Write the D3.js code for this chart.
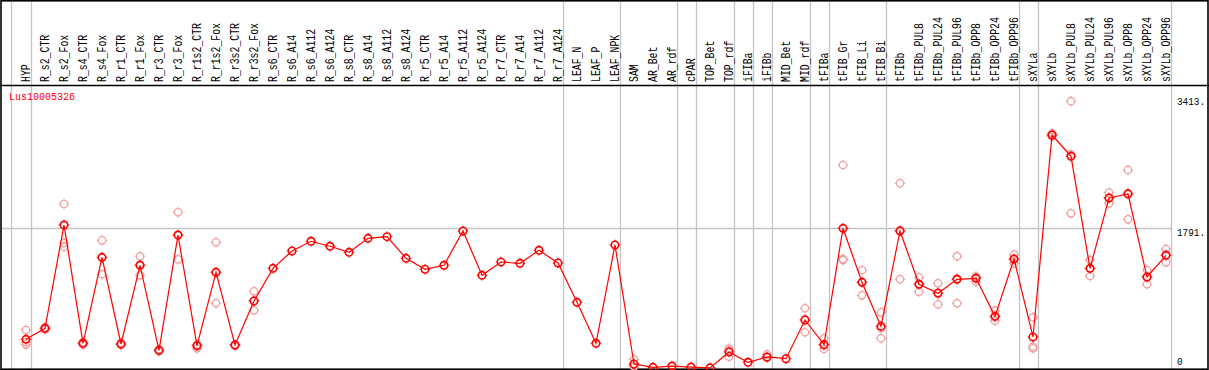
<!DOCTYPE html>
<html><head><meta charset="utf-8">
<script src="https://cdn.jsdelivr.net/npm/d3@7"></script>
<style>html,body{margin:0;padding:0;background:#fff;overflow:hidden}</style>
</head><body>
<svg id="c" width="1209" height="370"></svg>
<script>
const categories = ["HYP","R_s2_CTR","R_s2_Fox","R_s4_CTR","R_s4_Fox","R_r1_CTR","R_r1_Fox","R_r3_CTR","R_r3_Fox","R_r1s2_CTR","R_r1s2_Fox","R_r3s2_CTR","R_r3s2_Fox","R_s6_CTR","R_s6_A14","R_s6_A112","R_s6_A124","R_s8_CTR","R_s8_A14","R_s8_A112","R_s8_A124","R_r5_CTR","R_r5_A14","R_r5_A112","R_r5_A124","R_r7_CTR","R_r7_A14","R_r7_A112","R_r7_A124","LEAF_N","LEAF_P","LEAF_NPK","SAM","AR_Bet","AR_rdf","cPAR","TOP_Bet","TOP_rdf","iFIBa","iFIBb","MID_Bet","MID_rdf","tFIBa","tFIB_Gr","tFIB_Li","tFIB_Bi","tFIBb","tFIBb_PUL8","tFIBb_PUL24","tFIBb_PUL96","tFIBb_OPP8","tFIBb_OPP24","tFIBb_OPP96","sXYLa","sXYLb","sXYLb_PUL8","sXYLb_PUL24","sXYLb_PUL96","sXYLb_OPP8","sXYLb_OPP24","sXYLb_OPP96"];
const meanValues = [367,508,1829,316,1416,307,1314,226,1701,285,1224,294,857,1275,1497,1621,1557,1480,1659,1680,1403,1263,1314,1753,1186,1356,1339,1506,1343,840,316,1574,51,8,25,12,2,205,73,141,119,614,300,1787,1096,533,1753,1071,956,1135,1147,661,1394,397,2981,2708,1275,2175,2226,1164,1442];
const repA = [486,520,2098,330,1633,320,1429,240,1992,252,1608,300,981,null,null,null,null,null,null,null,null,null,null,null,null,null,null,null,null,null,null,null,111,null,null,null,null,247,null,175,null,764,380,2597,1250,712,2363,1160,1083,1429,1165,733,1450,649,3002,3413,1382,2243,2533,1254,1522];
const repB = [330,495,1552,300,1199,295,1186,215,1390,300,828,285,738,null,null,null,null,null,null,null,null,null,null,null,null,null,null,null,null,null,null,null,17,null,null,null,null,145,null,130,null,457,243,1394,930,380,1135,976,815,828,1104,605,1339,273,2960,1979,1177,2107,1902,1071,1352];
const repC = [300,null,1600,null,1410,null,1320,null,1700,null,1230,null,860,null,null,null,null,null,null,null,null,null,null,null,null,null,null,null,null,null,null,null,30,null,null,null,null,220,null,null,null,620,290,1381,1100,510,1760,1075,965,1145,1170,650,1390,252,2980,2732,1270,2175,2240,1165,1450];
const groupEnds = ["HYP","R_r7_A124","LEAF_NPK","AR_rdf","cPAR","TOP_rdf","iFIBa","iFIBb","MID_rdf","tFIBa","tFIB_Bi","tFIBb_OPP96","sXYLa","sXYLb_OPP96"];
const tickValues = [0,1791,3413];
const tickLabels = ["0","1791.","3413."];
const geneName = "Lus10005326";

const svg = d3.select("#c");
const x = d3.scalePoint().domain(categories).range([26,1166]);
const y = d3.scaleLinear().domain([0,1791]).range([368,228]);

// vertical grid lines
const gridX = [x(categories[0]) - 15.3].concat(groupEnds.map(c => x(c) + 4.7));
svg.append("g").selectAll("line").data(gridX).join("line")
  .attr("x1", d => Math.round(d)+0.5).attr("x2", d => Math.round(d)+0.5)
  .attr("y1", 0).attr("y2", 369)
  .attr("stroke", "#c4c4c4").attr("stroke-width", 1.3);

// horizontal grid line at middle tick
svg.append("line").attr("x1",1).attr("x2",1171)
  .attr("y1", Math.round(y(1791))+0.5).attr("y2", Math.round(y(1791))+0.5)
  .attr("stroke","#c4c4c4").attr("stroke-width",1.3);

// frame
const fr = svg.append("g").attr("stroke","#000").attr("stroke-width",1.6).attr("fill","none");
fr.append("rect").attr("x",1).attr("y",0.8).attr("width",1207).attr("height",368.4);
fr.append("line").attr("x1",0).attr("x2",1209).attr("y1",85.5).attr("y2",85.5);

// category labels
svg.append("g").selectAll("text").data(categories).join("text")
  .attr("transform", d => `translate(${x(d)+4},82) rotate(-90)`)
  .attr("font-family","Liberation Mono, monospace").attr("font-size",12)
  .attr("textLength", d => d.length*5.9).attr("lengthAdjust","spacingAndGlyphs")
  .attr("fill","#000").text(d => d);

// gene name
svg.append("text").attr("x",9).attr("y",100)
  .attr("font-family","Liberation Mono, monospace").attr("font-size",11)
  .attr("textLength", 66).attr("lengthAdjust","spacingAndGlyphs")
  .attr("fill","#ff0000").text(geneName);

// y tick labels
svg.append("g").selectAll("text").data(tickValues).join("text")
  .attr("x",1177).attr("y", (d,i) => i===0 ? y(d)-3 : (i===1 ? y(d)+7.5 : y(d)+3.5))
  .attr("font-family","Liberation Mono, monospace").attr("font-size",11)
  .attr("textLength", (d,i) => tickLabels[i].length*5.6).attr("lengthAdjust","spacingAndGlyphs")
  .attr("fill","#000").text((d,i) => tickLabels[i]);

function marker(g, cx, cy, color, sw) {
  g.append("circle").attr("cx",cx).attr("cy",cy).attr("r",3.7)
    .attr("fill","none").attr("stroke",color).attr("stroke-width",sw);
  g.append("path").attr("stroke",color).attr("stroke-width",1)
    .attr("d",`M${cx},${cy-4}V${cy-5.3}M${cx},${cy+4}V${cy+5.3}M${cx-4},${cy}H${cx-5.3}M${cx+4},${cy}H${cx+5.3}`);
}

// replicate points
const repG = svg.append("g");
[repA, repB, repC].forEach(arr => {
  arr.forEach((v,i) => {
    if (v === null) return;
    marker(repG, x(categories[i]), y(v), "#f0a0a0", 1.3);
  });
});

// mean line
const line = d3.line().x((d,i) => x(categories[i])).y(d => y(d));
svg.append("path").datum(meanValues).attr("d", line)
  .attr("fill","none").attr("stroke","#ff0000").attr("stroke-width",1.2);

// mean markers
const mG = svg.append("g");
meanValues.forEach((v,i) => marker(mG, x(categories[i]), y(v), "#ff0000", 1.6));
</script>
</body></html>
